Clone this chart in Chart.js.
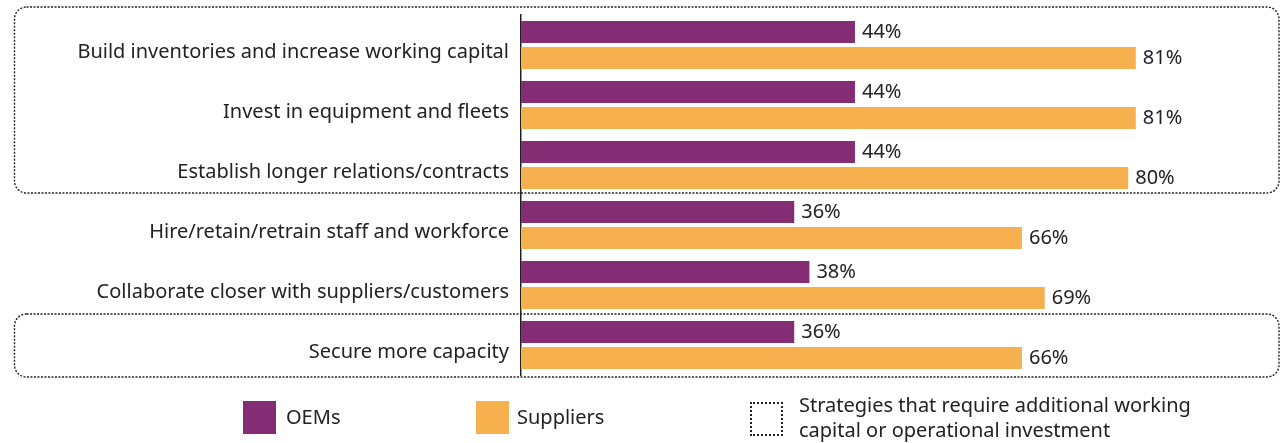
<!DOCTYPE html>
<html>
<head>
<meta charset="utf-8">
<script src="https://cdn.jsdelivr.net/npm/chart.js@4.4.0/dist/chart.umd.min.js"></script>
<style>
  html, body { margin: 0; padding: 0; background: #fff; }
  body { width: 1283px; height: 443px; position: relative; overflow: hidden; font-family: "Noto Sans", sans-serif; color: #222; }
  #wrap { position: absolute; left: 0; top: 0; width: 1283px; height: 392px; }
  .legend { position: absolute; top: 401px; font-size: 20px; line-height: 25px; }
  .sw { position: absolute; width: 33px; height: 33px; }
  .lbl { position: absolute; white-space: nowrap; }
</style>
</head>
<body>
<div id="wrap"><canvas id="strategyChart"></canvas></div>

<div class="legend" style="left:0;">
  <div class="sw" style="left:243px; top:0; background:#852d74;"></div>
  <div class="lbl" style="left:286px; top:3px;">OEMs</div>
  <div class="sw" style="left:476px; top:0; background:#f6b04d;"></div>
  <div class="lbl" style="left:517px; top:3px;">Suppliers</div>
  <div class="sw" style="left:750px; top:1px; width:29px; height:30px; border:2px dotted #222; border-radius:1px;"></div>
  <div class="lbl" style="left:799px; top:-9px;">Strategies that require additional working<br>capital or operational investment</div>
</div>

<script>
// Chart data
const categories = [
    'Build inventories and increase working capital',
    'Invest in equipment and fleets',
    'Establish longer relations/contracts',
    'Hire/retain/retrain staff and workforce',
    'Collaborate closer with suppliers/customers',
    'Secure more capacity'
];
const oemValues = [44, 44, 44, 36, 38, 36];
const supplierValues = [81, 81, 80, 66, 69, 66];

// Category index ranges wrapped in dotted boxes
const highlightGroups = [[0, 2], [5, 5]];

const PURPLE = '#852d74';
const ORANGE = '#f6b04d';
const TEXT = '#222222';
const FONT = '"Noto Sans", sans-serif';

/* ===========================================================
   PLUGINS
=========================================================== */

// Percent labels at the end of each bar
const valueLabels = {
    id: 'valueLabels',
    afterDatasetsDraw(chart) {
        const ctx = chart.ctx;
        ctx.save();
        ctx.font = '20px ' + FONT;
        ctx.fillStyle = TEXT;
        ctx.textAlign = 'left';
        ctx.textBaseline = 'middle';
        chart.data.datasets.forEach((ds, i) => {
            chart.getDatasetMeta(i).data.forEach((bar, j) => {
                ctx.fillText(ds.data[j] + '%', bar.x + 7, bar.y);
            });
        });
        ctx.restore();
    }
};

// Dotted rounded boxes around groups of categories
const groupBoxes = {
    id: 'groupBoxes',
    afterDraw(chart, args, opts) {
        const ctx = chart.ctx;
        const y = chart.scales.y;
        const half = (y.getPixelForValue(1) - y.getPixelForValue(0)) / 2;
        ctx.save();
        ctx.strokeStyle = TEXT;
        ctx.lineWidth = 1.4;
        ctx.setLineDash([2, 1.5]);
        opts.groups.forEach(([a, b], k) => {
            const top = y.getPixelForValue(a) - half - opts.padTop[k];
            const bottom = y.getPixelForValue(b) + half - opts.padBottom[k];
            const left = opts.left;
            const right = chart.chartArea.right - 1;
            ctx.beginPath();
            ctx.roundRect(left, top, right - left, bottom - top, 12);
            ctx.stroke();
        });
        ctx.restore();
    }
};

/* ===========================================================
   CHART
=========================================================== */

const ctx = document.getElementById('strategyChart').getContext('2d');
new Chart(ctx, {
    type: 'bar',
    data: {
        labels: categories,
        datasets: [
            { label: 'OEMs', data: oemValues, backgroundColor: PURPLE },
            { label: 'Suppliers', data: supplierValues, backgroundColor: ORANGE }
        ]
    },
    options: {
        indexAxis: 'y',
        responsive: true,
        maintainAspectRatio: false,
        animation: false,
        categoryPercentage: 0.867,
        barPercentage: 0.846,
        layout: { padding: { top: 15, right: 3, bottom: 17, left: 0 } },
        plugins: {
            legend: { display: false },
            tooltip: { enabled: false },
            groupBoxes: { groups: highlightGroups, left: 14.5, padTop: [8, 1], padBottom: [2, -2] }
        },
        scales: {
            x: { display: false, min: 0, max: 100 },
            y: {
                afterFit(scale) {
                    scale.width = 521;
                    scale.paddingTop = 0;
                    scale.paddingBottom = 0;
                },
                grid: { display: false, drawTicks: false },
                border: { display: true, color: TEXT, width: 1.5 },
                ticks: { color: TEXT, padding: 12, labelOffset: 7, font: { family: FONT, size: 20 } }
            }
        }
    },
    plugins: [valueLabels, groupBoxes]
});
</script>
</body>
</html>
